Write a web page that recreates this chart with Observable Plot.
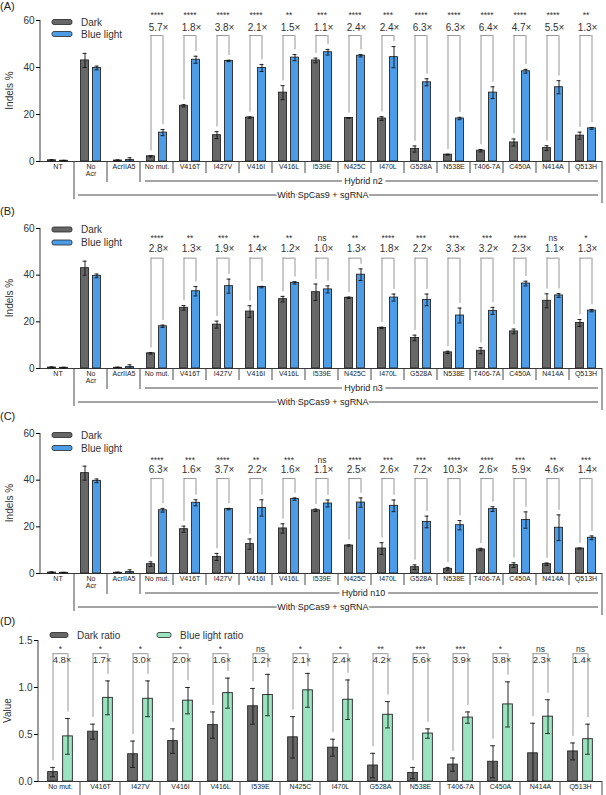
<!DOCTYPE html>
<html>
<head>
<meta charset="utf-8">
<script src="https://cdn.jsdelivr.net/npm/d3@7"></script>
<script src="https://cdn.jsdelivr.net/npm/@observablehq/plot@0.6"></script>
<style>
  body { margin: 0; background: #fff; }
  #fig { width: 606px; }
  #fig svg { display: block; }
</style>
</head>
<body>
<div id="fig"></div>
<script>
const FONT = "Liberation Sans, Arial, Helvetica, sans-serif";

/* categories */
const groups = ["NT", "No Acr", "AcrIIA5", "No mut.", "V416T", "I427V", "V416I", "V416L", "I539E", "N425C", "I470L", "G528A", "N538E", "T406-7A", "C450A", "N414A", "Q513H"];
const mutants = groups.slice(3);

/* (A) hybrid n2 - indels % */
const darkA = [0.5, 43.0, 0.4, 2.2, 23.7, 11.2, 18.7, 29.3, 43.0, 18.5, 18.3, 5.3, 2.9, 4.6, 8.1, 5.7, 11.0];
const darkErrA = [0.3, 3.0, 0.3, 0.3, 0.5, 1.5, 0.3, 3.0, 1.0, 0.1, 0.8, 1.3, 0.2, 0.5, 1.5, 1.0, 1.5];
const blueA = [0.3, 39.8, 0.6, 12.3, 43.3, 42.8, 39.8, 44.2, 46.5, 45.0, 44.4, 33.7, 18.3, 29.3, 38.4, 31.6, 14.1];
const blueErrA = [0.2, 0.8, 1.0, 1.3, 1.5, 0.3, 1.5, 1.3, 1.2, 0.5, 4.5, 1.5, 0.5, 2.5, 0.8, 2.8, 0.4];
const starsA = ["****", "****", "****", "****", "**", "***", "****", "***", "****", "****", "****", "****", "****", "**"];
const foldA = ["5.7", "1.8", "3.8", "2.1", "1.5", "1.1", "2.4", "2.4", "6.3", "6.3", "6.4", "4.7", "5.5", "1.3"];

/* (B) hybrid n3 */
const darkB = [0.4, 43.0, 0.3, 6.5, 26.0, 18.8, 24.4, 29.7, 32.7, 30.3, 17.4, 13.1, 6.9, 7.6, 15.9, 29.0, 19.5];
const darkErrB = [0.3, 3.0, 0.3, 0.3, 1.0, 1.5, 2.5, 1.2, 3.5, 0.3, 0.3, 1.2, 0.5, 1.3, 1.0, 3.0, 1.5];
const blueB = [0.3, 39.7, 0.6, 18.1, 33.1, 35.3, 34.9, 36.7, 33.9, 40.2, 30.4, 29.4, 22.7, 24.7, 36.4, 31.3, 24.8];
const blueErrB = [0.2, 0.8, 1.0, 0.5, 2.0, 3.0, 0.3, 0.5, 1.5, 2.5, 1.5, 2.5, 3.2, 1.5, 1.0, 0.8, 0.5];
const starsB = ["****", "**", "***", "**", "**", "ns", "**", "****", "***", "***", "***", "****", "ns", "*"];
const foldB = ["2.8", "1.3", "1.9", "1.4", "1.2", "1.0", "1.3", "1.8", "2.2", "3.3", "3.2", "2.3", "1.1", "1.3"];

/* (C) hybrid n10 */
const darkC = [0.4, 43.0, 0.3, 4.0, 19.0, 7.1, 12.6, 19.3, 27.1, 12.0, 10.7, 2.7, 2.0, 10.3, 3.6, 4.0, 10.7];
const darkErrC = [0.3, 3.0, 0.3, 1.0, 1.3, 1.5, 2.2, 2.0, 0.5, 0.3, 2.5, 1.0, 0.6, 0.5, 1.0, 0.5, 0.2];
const blueC = [0.3, 39.7, 0.6, 27.1, 30.3, 27.6, 28.1, 31.9, 30.0, 30.4, 29.0, 22.1, 20.7, 27.6, 22.9, 19.6, 15.3];
const blueErrC = [0.2, 0.8, 1.0, 0.8, 1.3, 0.3, 3.5, 0.5, 1.5, 2.0, 2.5, 2.5, 2.0, 1.0, 3.5, 5.5, 0.8];
const starsC = ["****", "***", "****", "**", "***", "ns", "****", "***", "***", "****", "****", "***", "**", "***"];
const foldC = ["6.3", "1.6", "3.7", "2.2", "1.6", "1.1", "2.5", "2.6", "7.2", "10.3", "2.6", "5.9", "4.6", "1.4"];

/* (D) ratios */
const darkD = [0.10, 0.53, 0.29, 0.43, 0.60, 0.80, 0.47, 0.36, 0.17, 0.09, 0.18, 0.21, 0.30, 0.32];
const darkErrD = [0.05, 0.08, 0.14, 0.13, 0.14, 0.19, 0.22, 0.09, 0.13, 0.06, 0.07, 0.17, 0.32, 0.09];
const blueD = [0.48, 0.89, 0.88, 0.86, 0.94, 0.92, 0.97, 0.87, 0.71, 0.51, 0.68, 0.82, 0.69, 0.45];
const blueErrD = [0.19, 0.18, 0.19, 0.14, 0.16, 0.22, 0.18, 0.21, 0.14, 0.05, 0.06, 0.24, 0.18, 0.16];
const starsD = ["*", "*", "*", "*", "*", "ns", "*", "*", "**", "***", "***", "*", "ns", "ns"];
const foldD = ["4.8", "1.7", "3.0", "2.0", "1.6", "1.2", "2.1", "2.4", "4.2", "5.6", "3.9", "3.8", "2.3", "1.4"];

const GRAY = "#676767", BLUE = "#4d9ce8", GREEN = "#9be4c1", EDGE = "#262626";

function panel(cfg) {
  const W = 606;
  const cats = cfg.cats;
  const bw = (W - cfg.ml - cfg.mr) / cats.length;
  const half = cfg.barW / 2;
  const offs = [-cfg.off, cfg.off];
  const series = [cfg.dark, cfg.blue];
  const errs = [cfg.darkErr, cfg.blueErr];
  const fills = [GRAY, cfg.color2];

  const marks = [];
  [0, 1].forEach(s => {
    const rows = cats.map((c, i) => ({cat: c, v: series[s][i], e: errs[s][i]}));
    const o = offs[s];
    marks.push(
      Plot.barY(rows, {x: "cat", y: "v", fill: fills[s], stroke: EDGE, strokeWidth: 0.9,
        insetLeft: bw / 2 + o - half, insetRight: bw / 2 - o - half}),
      Plot.ruleX(rows, {x: "cat", y1: d => Math.max(0, d.v - d.e), y2: d => d.v + d.e, dx: o, stroke: "#111", strokeWidth: 0.9}),
      Plot.tickY(rows, {x: "cat", y: d => d.v + d.e, dx: o, stroke: "#111", strokeWidth: 0.9,
        insetLeft: bw / 2 - cfg.cap, insetRight: bw / 2 - cfg.cap}),
      Plot.tickY(rows.filter(d => d.v - d.e > 0), {x: "cat", y: d => d.v - d.e, dx: o, stroke: "#111", strokeWidth: 0.9,
        insetLeft: bw / 2 - cfg.cap, insetRight: bw / 2 - cfg.cap})
    );
  });

  /* comparison brackets */
  const brk = cfg.mutants.map((c, k) => {
    const i = cats.indexOf(c);
    return {cat: c, lo0: cfg.dark[i] + cfg.darkErr[i] + cfg.gap, lo1: cfg.blue[i] + cfg.blueErr[i] + cfg.gap,
      star: cfg.stars[k], fold: cfg.fold[k] + "×"};
  });
  marks.push(
    Plot.ruleX(brk, {x: "cat", y1: "lo0", y2: cfg.bracketTop, dx: -cfg.off, stroke: "#8a8a8a", strokeWidth: 0.9}),
    Plot.ruleX(brk, {x: "cat", y1: "lo1", y2: cfg.bracketTop, dx: cfg.off, stroke: "#8a8a8a", strokeWidth: 0.9}),
    Plot.tickY(brk, {x: "cat", y: cfg.bracketTop, stroke: "#8a8a8a", strokeWidth: 0.9,
      insetLeft: bw / 2 - cfg.off, insetRight: bw / 2 - cfg.off}),
    Plot.text(brk, {x: "cat", y: cfg.foldY, text: "fold", fontSize: cfg.foldSize, fill: "#333", dx: 1.5}),
    Plot.text(brk, {x: "cat", y: cfg.starY, text: "star", fontSize: 8.5, fill: "#333"}),
    Plot.ruleY([0], {stroke: "#222", strokeWidth: 0.9}),
    Plot.axisY({ticks: cfg.ticks, tickSize: 4, tickPadding: 2, fontSize: 10, fill: "#333",
      tickFormat: cfg.tickFormat, label: null}),
    Plot.axisX({tickSize: 0, tickPadding: 3, fontSize: 7, fill: "#222", label: null,
      tickFormat: d => d === "No Acr" ? "No\nAcr" : d})
  );

  const chart = Plot.plot({
    width: W,
    height: cfg.height,
    marginTop: cfg.mt,
    marginBottom: cfg.mb,
    marginLeft: cfg.ml,
    marginRight: cfg.mr,
    style: {fontFamily: FONT, background: "white", overflow: "visible"},
    x: {type: "band", domain: cats, padding: 0},
    y: {domain: [0, cfg.yMax]},
    marks
  });

  const svg = d3.select(chart);
  const x = chart.scale("x"), y = chart.scale("y");
  const y0 = y.apply(0), yTop = y.apply(cfg.yMax);
  const g = svg.append("g").attr("font-family", FONT).attr("fill", "#222").attr("text-anchor", "start");
  const left = cfg.ml;

  /* y axis line and title */
  g.append("line").attr("x1", left).attr("x2", left).attr("y1", yTop).attr("y2", y0)
    .attr("stroke", "#222").attr("stroke-width", 0.9);
  g.append("text").attr("transform", `translate(${left - 27},${(y0 + yTop) / 2}) rotate(-90)`)
    .attr("text-anchor", "middle").attr("font-size", 10).attr("fill", "#333").text(cfg.yLabel);

  /* panel letter */
  g.append("text").attr("x", 0).attr("y", 10).attr("font-size", 11).attr("fill", "#222").text(`(${cfg.key})`);

  /* legend */
  cfg.legend.forEach((L, k) => {
    g.append("rect").attr("x", L.x).attr("y", L.y - 2.5).attr("width", L.w).attr("height", 5).attr("rx", 2)
      .attr("fill", k === 0 ? GRAY : cfg.color2).attr("stroke", EDGE).attr("stroke-width", 0.8);
    g.append("text").attr("x", L.x + L.w + 9).attr("y", L.y).attr("dy", "0.35em")
      .attr("font-size", 10).attr("fill", "#333").text(L.name);
  });

  /* label boxes below the axis */
  const xEnd = x.range[1];
  cats.forEach((c, i) => {
    if (i === 0) return;
    const len = cfg.sepLen(i);
    g.append("line").attr("x1", x.apply(c)).attr("x2", x.apply(c)).attr("y1", y0).attr("y2", y0 + len)
      .attr("stroke", "#333").attr("stroke-width", 0.9);
  });
  g.append("line").attr("x1", xEnd).attr("x2", xEnd).attr("y1", y0).attr("y2", y0 + cfg.endLen)
    .attr("stroke", "#333").attr("stroke-width", 0.9);

  if (cfg.hybrid) {
    const hx0 = x.apply("No mut.") + 5, hx1 = xEnd - 4;
    const sx0 = x.apply("No Acr") + 4;
    g.append("line").attr("x1", hx0).attr("x2", hx1).attr("y1", y0 + 20).attr("y2", y0 + 20)
      .attr("stroke", "#333").attr("stroke-width", 0.9);
    g.append("text").attr("x", (hx0 + hx1) / 2 - 8).attr("y", y0 + 20).attr("dy", "0.35em")
      .attr("text-anchor", "middle").attr("font-size", 9).attr("fill", "#222")
      .attr("stroke", "white").attr("stroke-width", 6).attr("paint-order", "stroke").text(cfg.hybrid);
    g.append("line").attr("x1", sx0).attr("x2", hx1).attr("y1", y0 + 34).attr("y2", y0 + 34)
      .attr("stroke", "#333").attr("stroke-width", 0.9);
    g.append("text").attr("x", (sx0 + hx1) / 2 - 15).attr("y", y0 + 34).attr("dy", "0.35em")
      .attr("text-anchor", "middle").attr("font-size", 9).attr("fill", "#222")
      .attr("stroke", "white").attr("stroke-width", 3).attr("paint-order", "stroke").text("With SpCas9 + sgRNA");
  }
  return chart;
}

const base = {cats: groups, mutants, ml: 40, mr: 4, yMax: 60, ticks: [0, 20, 40, 60], tickFormat: d3.format("d"),
  off: 6, barW: 8, cap: 2, gap: 2, foldSize: 10, color2: BLUE, yLabel: "Indels %",
  sepLen: i => i === 1 ? 38 : (i <= 3 ? 21 : 12), endLen: 42};

const panels = [
  {...base, key: "A", dark: darkA, darkErr: darkErrA, blue: blueA, blueErr: blueErrA, stars: starsA, fold: foldA,
    height: 205, mt: 20, mb: 44, bracketTop: 53.6, foldY: 56.8, starY: 62.2, hybrid: "Hybrid n2",
    legend: [{x: 52, y: 22, w: 20, name: "Dark"}, {x: 52, y: 34, w: 20, name: "Blue light"}]},
  {...base, key: "B", dark: darkB, darkErr: darkErrB, blue: blueB, blueErr: blueErrB, stars: starsB, fold: foldB,
    height: 205, mt: 23, mb: 42, bracketTop: 47.3, foldY: 51.3, starY: 55.7, hybrid: "Hybrid n3",
    legend: [{x: 52, y: 24.5, w: 20, name: "Dark"}, {x: 52, y: 37.5, w: 20, name: "Blue light"}]},
  {...base, key: "C", dark: darkC, darkErr: darkErrC, blue: blueC, blueErr: blueErrC, stars: starsC, fold: foldC,
    height: 205, mt: 23, mb: 42, bracketTop: 40.7, foldY: 44.3, starY: 48.6, hybrid: "Hybrid n10",
    legend: [{x: 52, y: 25, w: 20, name: "Dark"}, {x: 52, y: 38, w: 20, name: "Blue light"}]},
  {cats: mutants, mutants, ml: 38, mr: 4, yMax: 1.5, ticks: [0, 0.5, 1, 1.5], tickFormat: d3.format(".1f"),
    off: 7.5, barW: 10, cap: 2.5, gap: 0.07, foldSize: 9.5, color2: GREEN, yLabel: "Value",
    sepLen: () => 15, endLen: 15,
    key: "D", dark: darkD, darkErr: darkErrD, blue: blueD, blueErr: blueErrD, stars: starsD, fold: foldD,
    height: 180, mt: 25, mb: 14, bracketTop: 1.36, foldY: 1.29, starY: 1.41, hybrid: null,
    legend: [{x: 50, y: 20, w: 18, name: "Dark ratio"}, {x: 157, y: 20, w: 14, name: "Blue light ratio"}]}
];

const fig = document.getElementById("fig");
panels.forEach(p => fig.appendChild(panel(p)));
</script>
</body>
</html>
